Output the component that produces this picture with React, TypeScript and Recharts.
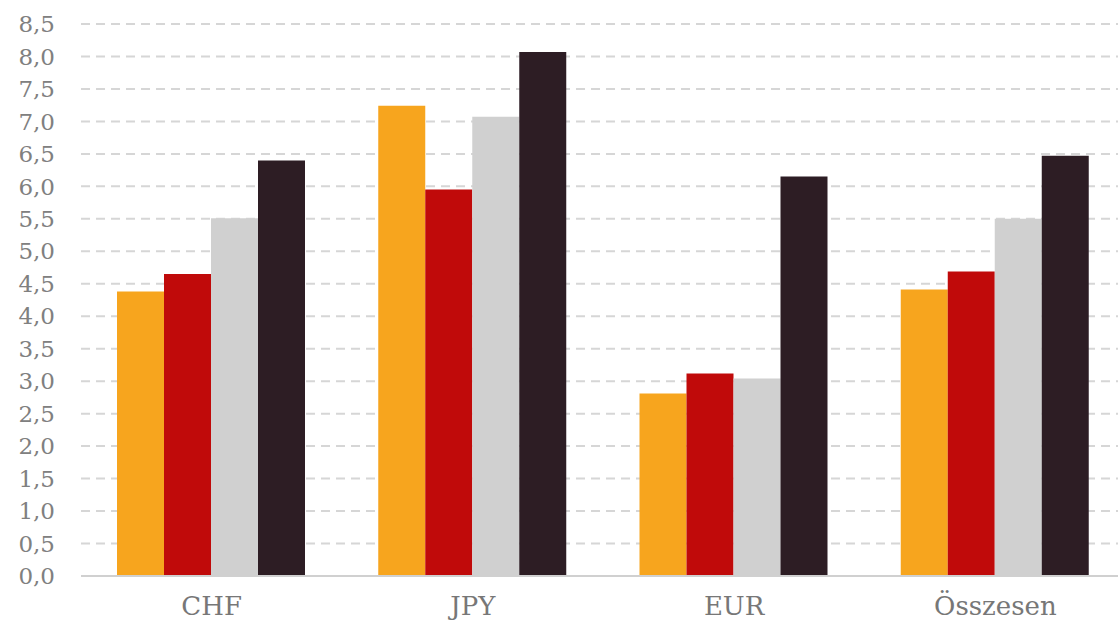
import React from 'react';
import { BarChart, Bar, XAxis, YAxis, CartesianGrid } from 'recharts';

const categories = ['CHF', 'JPY', 'EUR', 'Összesen'];
const series1 = [4.38, 7.24, 2.81, 4.41];
const series2 = [4.65, 5.95, 3.12, 4.69];
const series3 = [5.51, 7.07, 3.04, 5.5];
const series4 = [6.4, 8.07, 6.15, 6.47];
const yTicks = [0, 0.5, 1, 1.5, 2, 2.5, 3, 3.5, 4, 4.5, 5, 5.5, 6, 6.5, 7, 7.5, 8, 8.5];

const seriesColors = ['#F7A51E', '#C00A0A', '#D0D0D0', '#2D1D24'];

const data = categories.map((c, i) => ({
  name: c,
  s1: series1[i],
  s2: series2[i],
  s3: series3[i],
  s4: series4[i],
}));

const fmt = (v: number) => v.toFixed(1).replace('.', ',');

export default function App() {
  return (
    <div style={{ position: 'absolute', left: 0, top: 0, width: 1118, height: 623, overflow: 'hidden', background: '#fff' }}>
      <BarChart
        width={1130}
        height={623}
        data={data}
        margin={{ top: 24, right: 4, bottom: 0, left: 0 }}
        barCategoryGap={36}
        barGap={0}
      >
        <CartesianGrid vertical={false} stroke="#d6d6d6" strokeWidth={2} strokeDasharray="9 6" />
        <XAxis
          dataKey="name"
          height={47}
          axisLine={{ stroke: '#d0d0d0', strokeWidth: 2 }}
          tickLine={false}
          tickSize={0}
          tickMargin={21}
          tick={{ fill: '#777777', fontSize: 26, fontFamily: 'DejaVu Serif' }}
        />
        <YAxis
          width={81}
          domain={[0, 8.5]}
          ticks={yTicks}
          interval={0}
          axisLine={false}
          tickLine={false}
          tickSize={0}
          tickMargin={26}
          tickFormatter={fmt}
          tick={{ fill: '#808080', fontSize: 23, fontFamily: 'DejaVu Serif' }}
        />
        <Bar dataKey="s1" fill={seriesColors[0]} isAnimationActive={false} />
        <Bar dataKey="s2" fill={seriesColors[1]} isAnimationActive={false} />
        <Bar dataKey="s3" fill={seriesColors[2]} isAnimationActive={false} />
        <Bar dataKey="s4" fill={seriesColors[3]} isAnimationActive={false} />
      </BarChart>
    </div>
  );
}
